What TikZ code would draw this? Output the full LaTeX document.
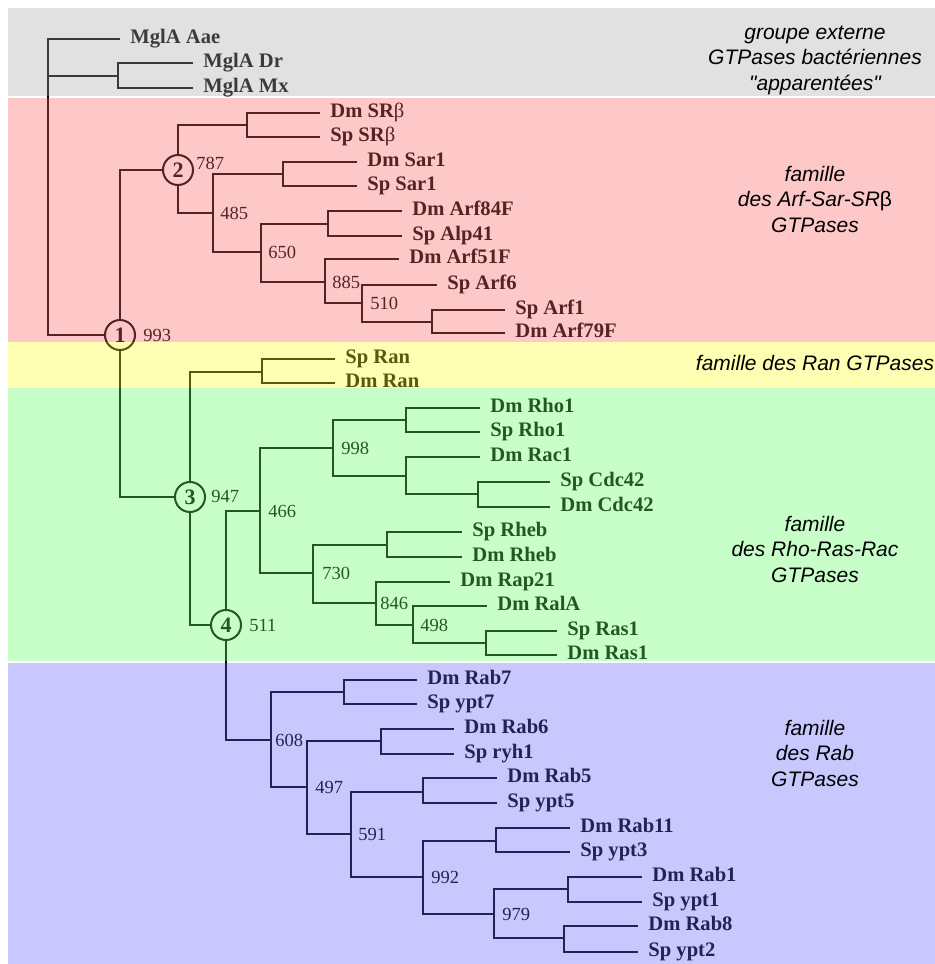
\documentclass[tikz,border=0pt]{standalone}
\usepackage{fontspec}
\setmainfont{Liberation Serif}
\setsansfont{Liberation Sans}
\usepackage{tikz}
\usetikzlibrary{positioning}
\definecolor{voilegris}{RGB}{169,169,169}
\definecolor{voilerose}{RGB}{255,98,98}
\definecolor{voilejaune}{RGB}{255,255,40}
\definecolor{voilevert}{RGB}{98,255,98}
\definecolor{voilebleu}{RGB}{98,98,255}

\begin{document}
\begin{tikzpicture}[x=0.5pt, y=-0.5pt]
    \tikzset{
        feuille/.style={
            anchor=west,
            font=\fontsize{10.3}{12}\selectfont\bfseries,
            inner xsep=5pt,
            inner ysep=0pt,
            text height=0.65em,
            text depth=0.25em
        },
        boot/.style={
            anchor=west,
            font=\fontsize{9.25}{11}\selectfont,
            inner sep=0pt,
            text height=0.68em,
            text depth=0pt
        },
        noeud/.style={
            circle,
            draw,
            line width=1pt,
            minimum size=15pt,
            inner sep=0pt,
            font=\fontsize{11}{11}\selectfont\bfseries
        },
        branche/.style={
            line width=1.45pt
        },
        voile/.style={
            fill opacity=0.35
        },
        groupe/.style={
            align=center,
            font=\sffamily\itshape\fontsize{10.5}{12.75}\selectfont
        }
    }
    \useasboundingbox (0,0) rectangle (935,964);

    % Noeuds internes
    \coordinate (r)     at (48,76);
    \coordinate (mglx)  at (118,76);
    \coordinate (srb)   at (247,125);
    \coordinate (sar)   at (283,174);
    \coordinate (arf84) at (328,224);
    \coordinate (arf1)  at (432,322);
    \coordinate (ran)   at (262,372);
    \coordinate (rho)   at (406,420);
    \coordinate (rac)   at (406,476);
    \coordinate (cdc)   at (478,494);
    \coordinate (rheb)  at (387,545);
    \coordinate (ras)   at (486,643);
    \coordinate (rab7)  at (344,692);
    \coordinate (rab6)  at (381,741);
    \coordinate (rab5)  at (423,792);
    \coordinate (rab11) at (496,841);
    \coordinate (rab1)  at (568,889);
    \coordinate (rab8)  at (564,938);
    \coordinate (b485)  at (213,213);
    \coordinate (b650)  at (261,252);
    \coordinate (b885)  at (325,282);
    \coordinate (b510)  at (362,303);
    \coordinate (b466)  at (260,511);
    \coordinate (b998)  at (333,448);
    \coordinate (b730)  at (313,573);
    \coordinate (b846)  at (376,603);
    \coordinate (b498)  at (413,625);
    \coordinate (b608)  at (271,740);
    \coordinate (b497)  at (307,787);
    \coordinate (b591)  at (351,834);
    \coordinate (b992)  at (423,877);
    \coordinate (b979)  at (494,914);

    % Noeuds numerotes
    \node[noeud] (n1) at (120,335) {1};
    \node[noeud] (n2) at (178,170) {2};
    \node[noeud] (n3) at (190,497) {3};
    \node[noeud] (n4) at (226,625) {4};

    % Feuilles
    \node[feuille] (aae)     at (120,39)  {MglA Aae};
    \node[feuille] (mgldr)   at (193,63)  {MglA Dr};
    \node[feuille] (mglmx)   at (193,88)  {MglA Mx};
    \node[feuille] (dmsrb)   at (320,113) {Dm SR{\mdseries β}};
    \node[feuille] (spsrb)   at (320,137) {Sp SR{\mdseries β}};
    \node[feuille] (dmsar)   at (357,162) {Dm Sar1};
    \node[feuille] (spsar)   at (357,186) {Sp Sar1};
    \node[feuille] (dmarf84) at (402,211) {Dm Arf84F};
    \node[feuille] (spalp)   at (402,236) {Sp Alp41};
    \node[feuille] (dmarf51) at (399,259) {Dm Arf51F};
    \node[feuille] (sparf6)  at (437,285) {Sp Arf6};
    \node[feuille] (sparf1)  at (505,310) {Sp Arf1};
    \node[feuille] (dmarf79) at (505,333) {Dm Arf79F};
    \node[feuille] (spran)   at (335,359) {Sp Ran};
    \node[feuille] (dmran)   at (335,383) {Dm Ran};
    \node[feuille] (dmrho)   at (480,408) {Dm Rho1};
    \node[feuille] (sprho)   at (480,432) {Sp Rho1};
    \node[feuille] (dmrac)   at (480,457) {Dm Rac1};
    \node[feuille] (spcdc)   at (550,482) {Sp Cdc42};
    \node[feuille] (dmcdc)   at (550,507) {Dm Cdc42};
    \node[feuille] (sprheb)  at (462,532) {Sp Rheb};
    \node[feuille] (dmrheb)  at (462,557) {Dm Rheb};
    \node[feuille] (dmrap)   at (450,582) {Dm Rap21};
    \node[feuille] (dmral)   at (487,606) {Dm RalA};
    \node[feuille] (spras)   at (557,631) {Sp Ras1};
    \node[feuille] (dmras)   at (557,655) {Dm Ras1};
    \node[feuille] (dmrab7)  at (417,680) {Dm Rab7};
    \node[feuille] (spypt7)  at (417,704) {Sp ypt7};
    \node[feuille] (dmrab6)  at (454,729) {Dm Rab6};
    \node[feuille] (spryh)   at (454,754) {Sp ryh1};
    \node[feuille] (dmrab5)  at (497,778) {Dm Rab5};
    \node[feuille] (spypt5)  at (497,803) {Sp ypt5};
    \node[feuille] (dmrab11) at (570,828) {Dm Rab11};
    \node[feuille] (spypt3)  at (570,852) {Sp ypt3};
    \node[feuille] (dmrab1)  at (642,877) {Dm Rab1};
    \node[feuille] (spypt1)  at (642,902) {Sp ypt1};
    \node[feuille] (dmrab8)  at (638,926) {Dm Rab8};
    \node[feuille] (spypt2)  at (638,952) {Sp ypt2};

    % Branches
    \draw[branche] (r) |- (aae.west) (r) -- (mglx) (r) |- (n1);
    \draw[branche] (mglx) |- (mgldr.west) (mglx) |- (mglmx.west);
    \draw[branche] (n1) |- (n2) (n1) |- (n3);
    \draw[branche] (n2) |- (srb) (n2) |- (b485);
    \draw[branche] (srb) |- (dmsrb.west) (srb) |- (spsrb.west);
    \draw[branche] (b485) |- (sar) (b485) |- (b650);
    \draw[branche] (sar) |- (dmsar.west) (sar) |- (spsar.west);
    \draw[branche] (b650) |- (arf84) (b650) |- (b885);
    \draw[branche] (arf84) |- (dmarf84.west) (arf84) |- (spalp.west);
    \draw[branche] (b885) |- (dmarf51.west) (b885) |- (b510);
    \draw[branche] (b510) |- (sparf6.west) (b510) |- (arf1);
    \draw[branche] (arf1) |- (sparf1.west) (arf1) |- (dmarf79.west);
    \draw[branche] (n3) |- (ran) (n3) |- (n4);
    \draw[branche] (ran) |- (spran.west) (ran) |- (dmran.west);
    \draw[branche] (n4) |- (b466) (n4) |- (b608);
    \draw[branche] (b466) |- (b998) (b466) |- (b730);
    \draw[branche] (b998) |- (rho) (b998) |- (rac);
    \draw[branche] (rho) |- (dmrho.west) (rho) |- (sprho.west);
    \draw[branche] (rac) |- (dmrac.west) (rac) |- (cdc);
    \draw[branche] (cdc) |- (spcdc.west) (cdc) |- (dmcdc.west);
    \draw[branche] (b730) |- (rheb) (b730) |- (b846);
    \draw[branche] (rheb) |- (sprheb.west) (rheb) |- (dmrheb.west);
    \draw[branche] (b846) |- (dmrap.west) (b846) |- (b498);
    \draw[branche] (b498) |- (dmral.west) (b498) |- (ras);
    \draw[branche] (ras) |- (spras.west) (ras) |- (dmras.west);
    \draw[branche] (b608) |- (rab7) (b608) |- (b497);
    \draw[branche] (rab7) |- (dmrab7.west) (rab7) |- (spypt7.west);
    \draw[branche] (b497) |- (rab6) (b497) |- (b591);
    \draw[branche] (rab6) |- (dmrab6.west) (rab6) |- (spryh.west);
    \draw[branche] (b591) |- (rab5) (b591) |- (b992);
    \draw[branche] (rab5) |- (dmrab5.west) (rab5) |- (spypt5.west);
    \draw[branche] (b992) |- (rab11) (b992) |- (b979);
    \draw[branche] (rab11) |- (dmrab11.west) (rab11) |- (spypt3.west);
    \draw[branche] (b979) |- (rab1) (b979) |- (rab8);
    \draw[branche] (rab1) |- (dmrab1.west) (rab1) |- (spypt1.west);
    \draw[branche] (rab8) |- (dmrab8.west) (rab8) |- (spypt2.west);

    % Valeurs de bootstrap
    \node[boot] (v993) at ([xshift=3.5pt]n1.east) {993};
    \node[boot] (v787) at ([xshift=1pt,yshift=3.75pt]n2.east) {787};
    \node[boot] (v947) at ([xshift=2.5pt,yshift=0.75pt]n3.east) {947};
    \node[boot] (v511) at ([xshift=3.5pt]n4.east) {511};
    \node[boot] (v485) at ([xshift=3.5pt]b485) {485};
    \node[boot] (v650) at ([xshift=3.5pt]b650) {650};
    \node[boot] (v885) at ([xshift=3.5pt]b885) {885};
    \node[boot] (v510) at ([xshift=4pt]b510) {510};
    \node[boot] (v466) at ([xshift=4pt]b466) {466};
    \node[boot] (v998) at ([xshift=4pt]b998) {998};
    \node[boot] (v730) at ([xshift=4.5pt]b730) {730};
    \node[boot] (v846) at ([xshift=2pt]b846) {846};
    \node[boot] (v498) at ([xshift=3.5pt]b498) {498};
    \node[boot] (v608) at ([xshift=2pt]b608) {608};
    \node[boot] (v497) at ([xshift=4pt]b497) {497};
    \node[boot] (v591) at ([xshift=3.5pt]b591) {591};
    \node[boot] (v992) at ([xshift=4pt]b992) {992};
    \node[boot] (v979) at ([xshift=4pt]b979) {979};

    % Bandes de couleur
    \fill[voile, voilegris]  (8,8)   rectangle (935,96);
    \fill[voile, voilerose]  (8,98)  rectangle (935,342);
    \fill[voile, voilejaune] (8,342) rectangle (935,388);
    \fill[voile, voilevert]  (8,388) rectangle (935,661);
    \fill[voile, voilebleu]  (8,663) rectangle (935,964);

    % Familles
    \node[groupe] (tgris)  at (815,60)  {groupe externe\\GTPases bactériennes\\\textquotedbl apparentées\textquotedbl};
    \node[groupe] (trose)  at (815,199) {famille\\des Arf-Sar-SR{\upshape β}\\GTPases};
    \node[groupe] (tjaune) at (815,363) {famille des Ran GTPases};
    \node[groupe] (tvert)  at (815,549) {famille\\des Rho-Ras-Rac\\GTPases};
    \node[groupe] (tbleu)  at (815,753) {famille\\des Rab\\GTPases};
\end{tikzpicture}
\end{document}
